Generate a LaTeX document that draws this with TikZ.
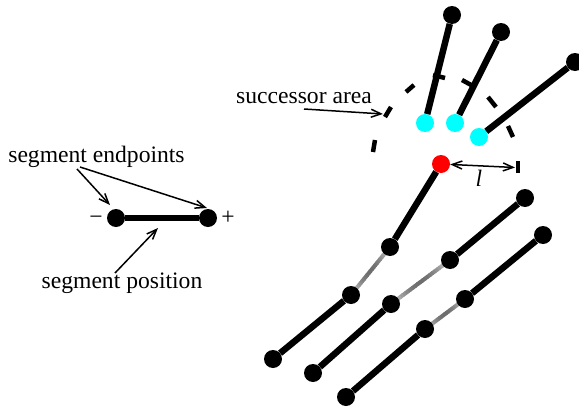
\documentclass[tikz,border=0pt]{standalone}
\usepackage{fontspec}
\setmainfont{Liberation Serif}
\usetikzlibrary{arrows.meta,calc}
\definecolor{aqua}{RGB}{0,255,255}
\definecolor{headred}{RGB}{255,0,0}
\pgfdeclarelayer{back}
\pgfsetlayers{back,main}
% shaded link between two segment ends (light at the ends, darker in the middle)
\newcommand\graylink[2]{%
  \begin{pgfonlayer}{back}
    \foreach \i in {0,...,23}{%
      \pgfmathsetmacro\ta{\i/24}%
      \pgfmathsetmacro\tb{min(1,(\i+1.3)/24)}%
      \pgfmathsetmacro\gv{15+42*sin(180*(\i+0.5)/24)}%
      \draw[line width=4pt,color=black!\gv] ($(#1)!\ta!(#2)$) -- ($(#1)!\tb!(#2)$);
    }
  \end{pgfonlayer}}
\begin{document}
\begin{tikzpicture}[x=1pt,y=-1pt,
  dot/.style={circle,fill=black,inner sep=0pt,minimum size=18pt},
  reddot/.style={dot,fill=headred},
  cyandot/.style={dot,fill=aqua},
  seg/.style={line width=6.5pt},
  arcdash/.style={line width=4.5pt},
  tip/.tip={Straight Barb[length=10pt,width=8pt,line width=1.5pt]},
  pointer/.style={line width=1.5pt,-tip},
  lbl/.style={font=\fontsize{23.6}{28}\selectfont,inner sep=0pt,anchor=base},
]
\useasboundingbox (0,0) rectangle (579,407);

% ---- single segment with its labels ----
\node[dot] (dL) at (116,218) {};
\node[dot] (dR) at (208,218) {};
\draw[seg] (dL) -- (dR);
\node[lbl] (minus) at (96,224) {−};
\node[lbl] (plus) at (228,224) {+};
\node[lbl] (endpts) at (96.5,162) {segment endpoints};
\node[lbl] (segpos) at (122,288) {segment position};

\coordinate (epA) at (77,169);
\coordinate (epB) at (80,167);
\coordinate (tipL) at (110,205);
\coordinate (tipR) at (207,208);
\draw[pointer] (epA) -- (tipL);
\draw[pointer] (epB) -- (tipR);
\coordinate (spA) at (115,273);
\coordinate (spB) at (158,228);
\draw[pointer] (spA) -- (spB);

% ---- successor area: dashed boundary around the head ----
\begin{pgfonlayer}{back}
  \draw[arcdash] (375,140) -- (373,152);
  \draw[arcdash] (391,107) -- (385,117);
  \draw[arcdash] (414,85) -- (406,92);
  \draw[arcdash] (433,75) -- (445,78);
  \draw[arcdash] (462,80) -- (473,86);
  \draw[arcdash] (488,97) -- (496,107);
  \draw[arcdash] (508,126) -- (513,137);
\end{pgfonlayer}
\coordinate (ltop) at (518,161);
\coordinate (lbot) at (518,173);
\draw[arcdash] (ltop) -- (lbot);

% ---- chains of segments ----
\node[reddot] (r0) at (441,164) {};
\node[dot] (c1a) at (390,247) {};
\node[dot] (c1b) at (351,295) {};
\node[dot] (c1c) at (273,359) {};

\node[dot] (c2a) at (525,198) {};
\node[dot] (c2b) at (450,260) {};
\node[dot] (c2c) at (391,304) {};
\node[dot] (c2d) at (313,373) {};

\node[dot] (c3a) at (543,235) {};
\node[dot] (c3b) at (465,299) {};
\node[dot] (c3c) at (425,329) {};
\node[dot] (c3d) at (346,397) {};

\draw[seg] (r0) -- (c1a);
\graylink{c1a}{c1b}
\draw[seg] (c1b) -- (c1c);
\draw[seg] (c2a) -- (c2b);
\graylink{c2b}{c2c}
\draw[seg] (c2c) -- (c2d);
\draw[seg] (c3a) -- (c3b);
\graylink{c3b}{c3c}
\draw[seg] (c3c) -- (c3d);

% ---- candidate successors ----
\node[cyandot] (s1) at (425,123) {};
\node[cyandot] (s2) at (455,123) {};
\node[cyandot] (s3) at (479,137) {};
\node[dot] (t1) at (452,15) {};
\node[dot] (t2) at (501,32) {};
\node[dot] (t3) at (575,62) {};
\draw[seg] (s1) -- (t1);
\draw[seg] (s2) -- (t2);
\draw[seg] (s3) -- (t3);

% ---- labels of the head ----
\node[lbl] (sucarea) at (304,103) {successor area};
\coordinate (saA) at (304,109);
\coordinate (saB) at (383,114);
\draw[pointer] (saA) -- (saB);

\coordinate (ltick) at (515,167.5);
\draw[line width=1.5pt,tip-tip] (r0) -- (ltick);
\node[lbl] (lname) at (479,186) {\itshape l};
\end{tikzpicture}
\end{document}
